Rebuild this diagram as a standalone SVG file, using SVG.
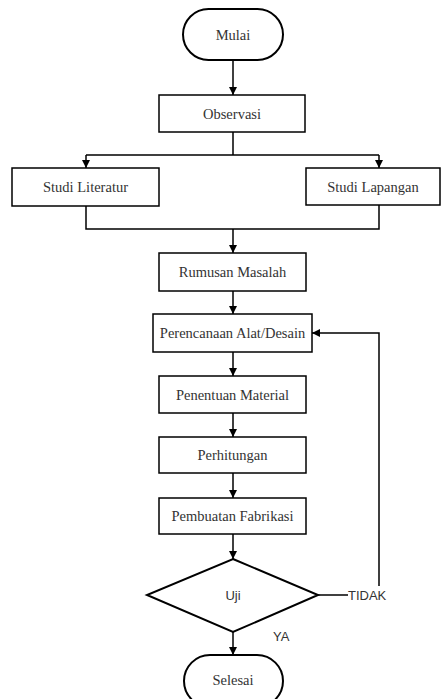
<svg xmlns="http://www.w3.org/2000/svg" width="442" height="699" viewBox="0 0 442 699">
<style>
.box{fill:#fff;stroke:#000;stroke-width:1.5}
.pill{fill:#fff;stroke:#000;stroke-width:2}
.t{font-family:"Liberation Serif","Times New Roman",serif;font-size:14.5px;fill:#333;text-anchor:middle;dominant-baseline:central}
.s{font-family:"Liberation Sans",Arial,sans-serif;font-size:13px;fill:#333}
.ln{fill:none;stroke:#000;stroke-width:1.5}
</style>
<defs>
<marker id="ah" viewBox="0 0 10 10" refX="10" refY="5" markerWidth="8" markerHeight="8" orient="auto" markerUnits="userSpaceOnUse">
<path d="M0,0 L10,5 L0,10 Z" fill="#000"/>
</marker>
</defs>
<rect width="442" height="699" fill="#fff"/>
<g id="connectors">
<path class="ln" d="M233,60 V95" marker-end="url(#ah)"/>
<path class="ln" d="M233,132 V155 M86,155 H379"/>
<path class="ln" d="M86,155 V168" marker-end="url(#ah)"/>
<path class="ln" d="M379,155 V168" marker-end="url(#ah)"/>
<path class="ln" d="M86,206 V229 H379 V205"/>
<path class="ln" d="M233,229 V253" marker-end="url(#ah)"/>
<path class="ln" d="M233,291 V314" marker-end="url(#ah)"/>
<path class="ln" d="M233,352 V376" marker-end="url(#ah)"/>
<path class="ln" d="M233,413 V437" marker-end="url(#ah)"/>
<path class="ln" d="M233,473 V498" marker-end="url(#ah)"/>
<path class="ln" d="M233,534 V559" marker-end="url(#ah)"/>
<path class="ln" d="M233,632 V655" marker-end="url(#ah)"/>
<path class="ln" d="M318,595 H348"/>
<path class="ln" d="M379,586 V333 H312" marker-end="url(#ah)"/>
<text class="s" x="348" y="599.5">TIDAK</text>
<text class="s" x="273" y="641">YA</text>
</g>
<g id="mulai"><rect class="pill" x="183" y="9" width="100" height="51" rx="25.5"/><text class="t" x="233" y="34.5">Mulai</text></g>
<g id="observasi"><rect class="box" x="159" y="95" width="146" height="37"/><text class="t" x="232" y="113.5">Observasi</text></g>
<g id="studi-literatur"><rect class="box" x="12" y="168" width="147" height="38"/><text class="t" x="85.5" y="187">Studi Literatur</text></g>
<g id="studi-lapangan"><rect class="box" x="306" y="168" width="134" height="37"/><text class="t" x="373" y="186.5">Studi Lapangan</text></g>
<g id="rumusan"><rect class="box" x="159" y="253" width="147" height="38"/><text class="t" x="232.5" y="272">Rumusan Masalah</text></g>
<g id="perencanaan"><rect class="box" x="153" y="314" width="159" height="38"/><text class="t" x="232.5" y="333">Perencanaan Alat/Desain</text></g>
<g id="penentuan"><rect class="box" x="159" y="376" width="147" height="37"/><text class="t" x="232.5" y="394.5">Penentuan Material</text></g>
<g id="perhitungan"><rect class="box" x="159" y="437" width="147" height="36"/><text class="t" x="232.5" y="455">Perhitungan</text></g>
<g id="pembuatan"><rect class="box" x="159" y="498" width="147" height="36"/><text class="t" x="232.5" y="516">Pembuatan Fabrikasi</text></g>
<g id="uji"><path class="pill" d="M233,559 L318,595 L233,632 L147,595 Z"/><text class="s" x="233" y="595" text-anchor="middle" dominant-baseline="central">Uji</text></g>
<g id="selesai"><rect class="pill" x="184" y="655" width="99" height="52" rx="26"/><text class="t" x="233" y="680">Selesai</text></g>
</svg>
